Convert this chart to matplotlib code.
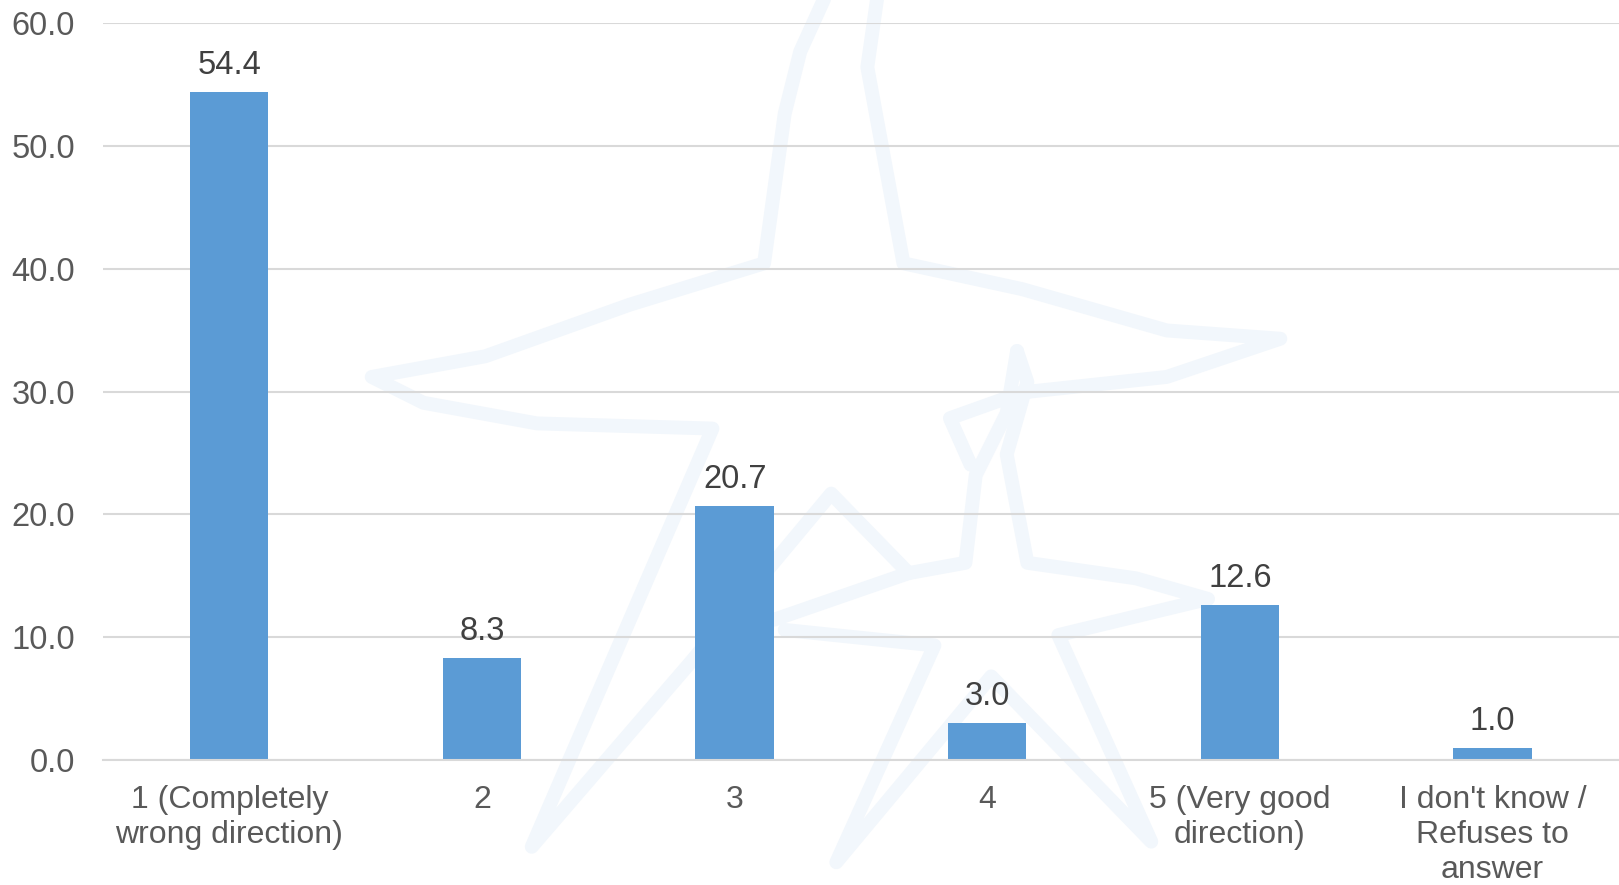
import matplotlib.pyplot as plt
from matplotlib.lines import Line2D

BAR_BLUE = "#5B9BD5"
GRID = "#D9D9D9"
TICK_TXT = "#595959"
LABEL_TXT = "#404040"
STAR = "#F2F7FC"

categories = ["1 (Completely\nwrong direction)", "2", "3", "4",
              "5 (Very good\ndirection)", "I don't know /\nRefuses to\nanswer"]
values = [54.4, 8.3, 20.7, 3.0, 12.6, 1.0]
yticks = [0, 10, 20, 30, 40, 50, 60]

# faint star watermark behind the chart (pixel coords of a 1568x857 view)
star_strokes = [
    [(800, -5), (775, 50), (760, 110), (740, 255), (610, 295), (470, 345), (360, 365),
     (410, 390), (520, 410), (690, 415), (515, 820), (670, 640), (805, 478), (880, 555)],
    [(850, -5), (840, 65), (875, 255), (990, 280), (1130, 320), (1240, 328),
     (1130, 365), (990, 380), (920, 405), (940, 450)],
    [(985, 340), (995, 370), (975, 440), (995, 545), (1100, 560), (1170, 580),
     (1025, 615), (1115, 815), (960, 655), (810, 835), (905, 625), (760, 610)],
    [(750, 600), (880, 555), (935, 545), (945, 460), (975, 400), (985, 340)],
]

plt.rcParams['font.family'] = ['Liberation Sans', 'DejaVu Sans']

fig = plt.figure(figsize=(16.19, 8.85), dpi=100)
ax = fig.add_axes([0.0636, 0.1412, 0.9364, 0.8328])
ax.patch.set_alpha(0)

for stroke in star_strokes:
    xs = [p[0] / 1568 for p in stroke]
    ys = [1 - p[1] / 857 for p in stroke]
    fig.add_artist(Line2D(xs, ys, color=STAR, lw=10, solid_capstyle='round',
                          solid_joinstyle='round', zorder=-1))

x = range(len(categories))
bars = ax.bar(x, values, width=0.31, color=BAR_BLUE, zorder=2)
for xi, v in zip(x, values):
    ax.annotate(f"{v:.1f}", (xi, v), xytext=(0, 8), textcoords='offset points',
                ha='center', va='bottom', fontsize=23.5, color=LABEL_TXT)

ax.set_xlim(-0.5, len(categories) - 0.5)
ax.set_ylim(0, 60)
ax.set_yticks(yticks)
ax.set_yticklabels([f"{t:.1f}" for t in yticks])
ax.set_xticks(list(x))
ax.set_xticklabels(categories, linespacing=1.21)
ax.tick_params(axis='y', length=0, pad=20, labelsize=23.5, labelcolor=TICK_TXT)
ax.tick_params(axis='x', length=0, pad=18, labelsize=23, labelcolor=TICK_TXT)

ax.grid(axis='y', color=GRID, lw=1.5)
ax.set_axisbelow(True)
for side in ['top', 'right', 'left']:
    ax.spines[side].set_visible(False)
ax.spines['bottom'].set_color(GRID)
ax.spines['bottom'].set_linewidth(1.5)

fig.savefig("out.png", dpi=100)
